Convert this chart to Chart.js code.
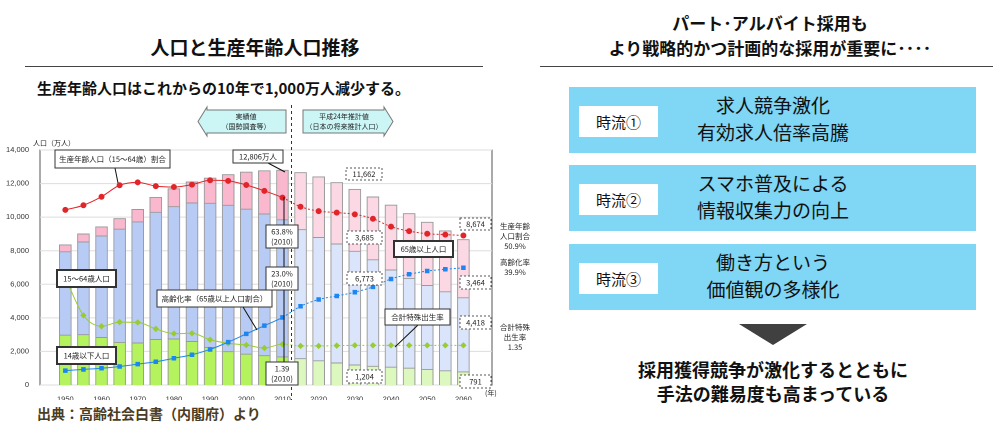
<!DOCTYPE html>
<html><head><meta charset="utf-8">
<script src="https://cdn.jsdelivr.net/npm/chart.js@4.4.1/dist/chart.umd.min.js"></script>
<style>
body{margin:0;width:1000px;height:428px;background:#fff;font-family:"Noto Sans CJK JP",sans-serif;position:relative;overflow:hidden;color:#111}
.a{position:absolute;white-space:nowrap}
.box{position:absolute;background:#7fd6f5;left:569px;width:407px;height:66px}
.lab{position:absolute;left:10px;top:19px;width:79px;height:31px;background:#fff;font-size:15px;line-height:31px;text-align:center}
.main{position:absolute;left:100px;width:208px;top:4px;text-align:center;font-size:19px;line-height:27px}
</style></head><body>
<div class="a" style="left:0;width:510px;top:33px;text-align:center;font-size:19px;font-weight:bold">人口と生産年齢人口推移</div>
<div style="position:absolute;left:25px;width:458px;top:66px;border-top:1px solid #444"></div>
<div class="a" style="left:37px;top:77px;font-size:15px;font-weight:bold">生産年齢人口はこれからの10年で1,000万人減少する。</div>
<div class="a" style="left:37px;top:403px;font-size:14px;font-weight:bold;color:#4a3c22">出典：高齢社会白書（内閣府）より</div>

<div class="a" style="left:540px;width:460px;top:10px;text-align:center;font-size:17px;font-weight:bold;line-height:25px">パート･アルバイト採用も<br>より戦略的かつ計画的な採用が重要に････</div>
<div style="position:absolute;left:540px;width:453px;top:66px;border-top:1px solid #444"></div>
<div class="box" style="top:87px"><div class="lab">時流①</div><div class="main">求人競争激化<br>有効求人倍率高騰</div></div>
<div class="box" style="top:165px"><div class="lab">時流②</div><div class="main">スマホ普及による<br>情報収集力の向上</div></div>
<div class="box" style="top:244px"><div class="lab">時流③</div><div class="main">働き方という<br>価値観の多様化</div></div>
<div style="position:absolute;left:739px;top:324px;width:0;height:0;border-left:34px solid transparent;border-right:34px solid transparent;border-top:21px solid #404040"></div>
<div class="a" style="left:540px;width:466px;top:357px;text-align:center;font-size:18px;font-weight:bold;line-height:24px">採用獲得競争が激化するとともに<br>手法の難易度も高まっている</div>

<canvas id="c" style="position:absolute;left:0;top:100px;width:540px;height:300px"></canvas>
<script>
const years=[1950,1955,1960,1965,1970,1975,1980,1985,1990,1995,2000,2005,2010,2015,2020,2025,2030,2035,2040,2045,2050,2055,2060];
const pop0_14=[2979,3012,2843,2553,2515,2722,2751,2603,2249,2001,1847,1759,1684,1583,1457,1324,1204,1129,1073,1012,939,861,791];
const pop15_64=[4966,5517,6047,6744,7212,7581,7883,8251,8590,8716,8638,8442,8173,7682,7341,7085,6773,6343,5787,5353,5001,4706,4418];
const pop65=[416,479,540,624,739,887,1065,1247,1493,1828,2204,2576,2948,3395,3612,3657,3685,3741,3868,3856,3768,3626,3464];
const workRatio=[59.6,61.2,64.1,68.0,69.0,67.7,67.4,68.2,69.7,69.5,68.1,66.1,63.8,60.7,59.2,58.7,58.1,56.6,53.9,52.4,51.5,51.2,50.9];
const agingRate=[4.9,5.3,5.7,6.3,7.1,7.9,9.1,10.3,12.1,14.6,17.4,20.2,23.0,26.8,29.1,30.3,31.6,33.4,36.1,37.7,38.8,39.4,39.9];
const fertility=[3.65,2.37,2.00,2.14,2.13,1.91,1.75,1.76,1.54,1.42,1.36,1.26,1.39,1.33,1.33,1.34,1.35,1.35,1.35,1.35,1.35,1.35,1.35];
const yTicks=[0,2000,4000,6000,8000,10000,12000,14000];
const xTicks=[1950,1960,1970,1980,1990,2000,2010,2020,2030,2040,2050,2060];
const lastActual=2010;

const fut=y=>y>lastActual;
const pts=a=>years.map((y,i)=>({x:y,y:a[i]}));
const col=(p,f)=>years.map(y=>fut(y)?f:p);
const barDs=(lab,a,p,f)=>({type:'bar',label:lab,data:pts(a),backgroundColor:col(p,f),borderColor:'#9a9a9a',borderWidth:1,barThickness:12,stack:'s',yAxisID:'y',order:3});
const seg={borderDash:c=>c.p0.parsed.x>=lastActual?[2,2]:undefined};
const lineDs=(lab,a,c,ax,ps)=>({type:'line',label:lab,data:pts(a),borderColor:c,backgroundColor:c,borderWidth:1,pointRadius:2.5,pointStyle:ps,yAxisID:ax,segment:seg,cubicInterpolationMode:'monotone',order:1});

const boxes=[
 {t:['生産年齢人口（15〜64歳）割合'],x:55,y:150,w:115,h:18,lx:[115,118],ly:[168,183]},
 {t:['12,806万人'],x:233,y:150,w:50,h:13,lx:[268,285],ly:[163,172]},
 {t:['63.8%','(2010)'],x:266,y:225,w:32,h:23,lx:[284,284],ly:[197,362]},
 {t:['23.0%','(2010)'],x:266,y:267,w:32,h:23},
 {t:['15〜64歳人口'],x:57,y:270,w:59,h:17,th:2},
 {t:['高齢化率（65歳以上人口割合）'],x:157,y:290,w:115,h:17,lx:[243,257],ly:[307,330]},
 {t:['14歳以下人口'],x:57,y:347,w:59,h:17,th:2},
 {t:['1.39','(2010)'],x:266,y:362,w:32,h:23},
 {t:['11,662'],x:346,y:168,w:36,h:12,d:1},
 {t:['3,685'],x:347,y:231,w:35,h:13,d:1},
 {t:['6,773'],x:347,y:272,w:35,h:13,d:1},
 {t:['1,204'],x:347,y:370,w:35,h:13,d:1},
 {t:['8,674'],x:460,y:218,w:31,h:12,d:1},
 {t:['3,464'],x:460,y:276,w:31,h:13,d:1},
 {t:['4,418'],x:460,y:316,w:31,h:13,d:1},
 {t:['791'],x:460,y:375,w:31,h:13,d:1},
 {t:['65歳以上人口'],x:394,y:241,w:59,h:16,th:2},
 {t:['合計特殊出生率'],x:385,y:309,w:65,h:16,lx:[395,418],ly:[347,325]}
];
const side=[{t:['生産年齢','人口割合','50.9%'],y:226},{t:['高齢化率','39.9%'],y:262},{t:['合計特殊','出生率','1.35'],y:327}];
const OY=100;
const deco={id:'deco',
 beforeDatasetsDraw(ch){const c=ch.ctx,a=ch.chartArea;c.save();
  c.strokeStyle='#ddd';c.lineWidth=1;
  ch.scales.y.ticks.forEach(t=>{const y=ch.scales.y.getPixelForValue(t.value);c.beginPath();c.moveTo(a.left,y);c.lineTo(a.right,y);c.stroke();});
  c.restore();},
 afterDatasetsDraw(ch){const c=ch.ctx,xs=ch.scales.x;c.save();
  const dx=xs.getPixelForValue(lastActual+2.5);
  c.setLineDash([3,3]);c.strokeStyle='#333';c.beginPath();c.moveTo(dx,5);c.lineTo(dx,ch.height);c.stroke();c.setLineDash([]);
  const arrow=(x0,x1,dir,lines)=>{const y0=110-OY,y1=133-OY,ym=(y0+y1)/2;c.beginPath();
   if(dir<0){c.moveTo(x0,ym);c.lineTo(x0+9,y0-3);c.lineTo(x0+9,y0);c.lineTo(x1,y0);c.lineTo(x1,y1);c.lineTo(x0+9,y1);c.lineTo(x0+9,y1+3);}
   else{c.moveTo(x1,ym);c.lineTo(x1-9,y0-3);c.lineTo(x1-9,y0);c.lineTo(x0,y0);c.lineTo(x0,y1);c.lineTo(x1-9,y1);c.lineTo(x1-9,y1+3);}
   c.closePath();c.fillStyle='#ccf6f6';c.fill();c.strokeStyle='#777';c.stroke();
   c.fillStyle='#222';c.font='7px "Noto Sans CJK JP"';c.textAlign='center';c.textBaseline='middle';
   const cx=(x0+x1)/2+(dir<0?4:-4);c.fillText(lines[0],cx,ym-5);c.fillText(lines[1],cx,ym+5);};
  arrow(198,286,-1,['実績値','（国勢調査等）']);arrow(303,393,1,['平成24年推計値','（日本の将来推計人口）']);
  c.fillStyle='#222';c.font='7px "Noto Sans CJK JP"';c.textAlign='left';c.textBaseline='middle';c.fillText('人口（万人）',33,143-OY);
  c.fillText('(年)',485,393-OY);
  boxes.forEach(b=>{if(b.lx){c.strokeStyle='#111';c.lineWidth=1;c.beginPath();c.moveTo(b.lx[0],b.ly[0]-OY);c.lineTo(b.lx[1],b.ly[1]-OY);c.stroke();}});
  boxes.forEach(b=>{const y=b.y-OY;
   c.fillStyle='#fff';c.fillRect(b.x,y,b.w,b.h);
   c.strokeStyle=b.d?'#555':'#333';c.lineWidth=b.th||1;if(b.d)c.setLineDash([2,2]);c.strokeRect(b.x,y,b.w,b.h);c.setLineDash([]);c.lineWidth=1;
   c.fillStyle='#222';c.font='7.5px "Noto Sans CJK JP"';c.textAlign='center';c.textBaseline='middle';
   const n=b.t.length;b.t.forEach((s,i)=>c.fillText(s,b.x+b.w/2,y+b.h/2+(i-(n-1)/2)*10));});
  side.forEach(s=>{c.fillStyle='#222';c.font='7.5px "Noto Sans CJK JP"';c.textAlign='center';s.t.forEach((t,i)=>c.fillText(t,515,s.y-OY+i*10));});
  c.restore();}};

new Chart(document.getElementById('c'),{
 data:{datasets:[
  lineDs('生産年齢人口割合',workRatio,'#e0262a','y2','circle'),
  lineDs('高齢化率',agingRate,'#1e86f0','y2','rect'),
  lineDs('合計特殊出生率',fertility,'#99cc33','y3','rectRot'),
  barDs('14歳以下人口',pop0_14,'#b4f25e','#dcf8bf'),
  barDs('15〜64歳人口',pop15_64,'#b8cbf5','#dae5fb'),
  barDs('65歳以上人口',pop65,'#f9b8ce','#fbd8e4')
 ]},
 options:{responsive:false,animation:false,devicePixelRatio:2,
  layout:{padding:{top:50,left:0,right:0,bottom:0}},
  plugins:{legend:{display:false},tooltip:{enabled:false}},
  scales:{
   x:{type:'linear',min:1948.2,max:2062.7,grid:{display:false},border:{color:'#555'},
      afterBuildTicks:s=>{s.ticks=xTicks.map(v=>({value:v}));},
      ticks:{font:{size:7.5},color:'#333',maxRotation:0,padding:2,callback:v=>String(v)},afterFit:s=>{s.height=15;}},
   y:{type:'linear',min:0,max:14000,position:'left',grid:{display:false},border:{color:'#555'},
      afterBuildTicks:s=>{s.ticks=yTicks.map(v=>({value:v}));},
      ticks:{font:{size:7.5},color:'#333',callback:v=>v.toLocaleString('en-US'),padding:3},afterFit:s=>{s.width=40;}},
   y2:{type:'linear',min:0,max:80,position:'right',grid:{display:false},border:{color:'#555'},
      ticks:{stepSize:10,callback:()=>''},afterFit:s=>{s.width=48;}},
   y3:{type:'linear',min:0,max:8,display:false}
  }},
 plugins:[deco]
});
</script></body></html>
